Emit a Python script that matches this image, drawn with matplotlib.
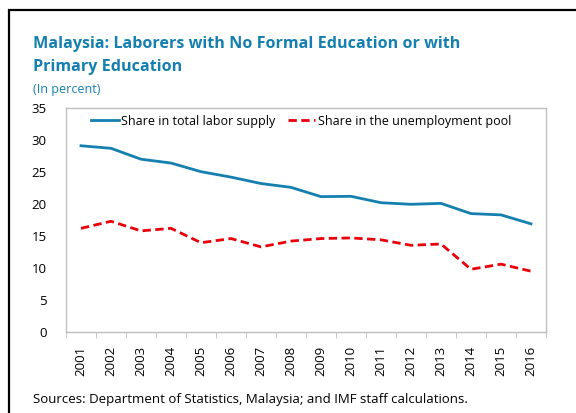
import matplotlib
matplotlib.use("Agg")
import matplotlib.pyplot as plt
from matplotlib.patches import Rectangle

years = [str(y) for y in range(2001, 2017)]
labor_supply = [29.1, 28.7, 27.0, 26.4, 25.05, 24.2, 23.2, 22.6, 21.15, 21.2, 20.2, 19.95, 20.1, 18.5, 18.3, 16.9]
unemployment = [16.2, 17.3, 15.8, 16.2, 13.95, 14.6, 13.3, 14.2, 14.6, 14.7, 14.4, 13.55, 13.75, 9.8, 10.6, 9.5]
yticks = [0, 5, 10, 15, 20, 25, 30, 35]

plt.rcParams['font.family'] = ['Open Sans', 'DejaVu Sans']
BLUE = '#1580B0'
RED = '#E8000B'
GRAY = '#BFBFBF'

W, H = 576, 413
fig = plt.figure(figsize=(W/100, H/100), dpi=100)

# outer frame
fig.patches.append(Rectangle((9/W, -0.1), 1.2, 1 - 10/H + 0.1, transform=fig.transFigure,
                             fill=False, edgecolor='black', linewidth=1.6))

fig.text(33/W, 1 - 44/H, 'Malaysia: Laborers with No Formal Education or with',
         fontsize=11.6, fontweight='bold', color=BLUE, va='center', ha='left')
fig.text(33/W, 1 - 67/H, 'Primary Education',
         fontsize=11.6, fontweight='bold', color=BLUE, va='center', ha='left')
fig.text(33/W, 1 - 89/H, '(In percent)', fontsize=9, color=BLUE, va='center', ha='left')
fig.text(33/W, 1 - 399/H, 'Sources: Department of Statistics, Malaysia; and IMF staff calculations.',
         fontsize=9.5, color='black', va='center', ha='left')

ax = fig.add_axes([66/W, 1 - 332/H, (546 - 66)/W, (332 - 108)/H])
x = list(range(len(years)))
ax.plot(x, labor_supply, color=BLUE, linewidth=2, label='Share in total labor supply')
ax.plot(x, unemployment, color=RED, linewidth=2, linestyle=(0, (3, 1.6)),
        label='Share in the unemployment pool')

ax.set_xlim(-0.5, len(years) - 0.5)
ax.set_ylim(0, 35)
ax.set_yticks(yticks)
ax.set_yticklabels([str(v) for v in yticks], fontsize=9.5)
ax.tick_params(axis='y', length=0, pad=14)
ax.set_xticks(x)
ax.set_xticklabels(years, rotation=90, fontsize=9.5)
ax.tick_params(axis='x', which='major', length=0, pad=10)
ax.set_xticks([i - 0.5 for i in range(len(years) + 1)], minor=True)
ax.tick_params(axis='x', which='minor', length=4, color=GRAY, direction='out')
for s in ax.spines.values():
    s.set_color(GRAY)
    s.set_linewidth(1)

leg = ax.legend(loc='upper center', ncol=2, frameon=False, fontsize=9,
                bbox_to_anchor=(0.49, 1.02), handlelength=2.2, handletextpad=0.2,
                columnspacing=1.0)

fig.savefig('out.png', dpi=100)
